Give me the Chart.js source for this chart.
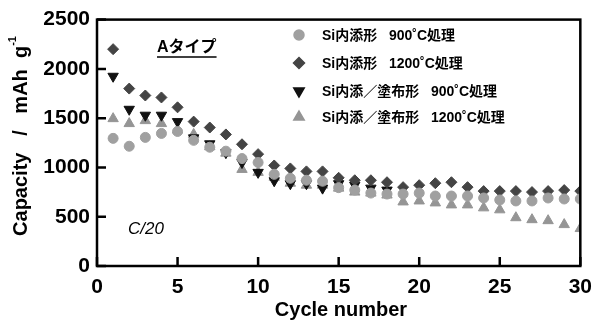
<!DOCTYPE html>
<html>
<head>
<meta charset="utf-8">
<script src="https://cdn.jsdelivr.net/npm/chart.js@4.4.1/dist/chart.umd.min.js"></script>
<style>
  html, body { margin: 0; padding: 0; background: #fff; }
  #wrap { width: 601px; height: 322px; position: relative; }
</style>
</head>
<body>
<div id="wrap"><canvas id="chart" width="601" height="322"></canvas></div>
<script>
  // Cycle numbers
  const cycles = [1, 2, 3, 4, 5, 6, 7, 8, 9, 10, 11, 12, 13, 14, 15,
                  16, 17, 18, 19, 20, 21, 22, 23, 24, 25, 26, 27, 28, 29, 30];

  // Si内添形 900°C処理 (circles)
  const inner900 = [1295, 1215, 1305, 1345, 1365, 1275, 1205, 1165, 1090, 1050,
                    930, 890, 870, 860, 795, 770, 740, 730, 730, 740,
                    710, 710, 710, 690, 670, 660, 660, 690, 680, 680];

  // Si内添形 1200°C処理 (diamonds)
  const inner1200 = [2200, 1800, 1730, 1710, 1610, 1465, 1405, 1335, 1235, 1135,
                     1020, 990, 960, 960, 895, 870, 870, 850, 800, 820,
                     840, 850, 800, 760, 760, 760, 750, 760, 770, 760];

  // Si内添/塗布形 900°C処理 (down triangles)
  const coated900 = [1925, 1590, 1530, 1530, 1465, 1300, 1240, 1150, 1050, 950,
                     865, 835, 835, 790, 835, 820, 790, 770];

  // Si内添/塗布形 1200°C処理 (up triangles)
  const coated1200 = [1495, 1445, 1475, 1445, 1380, 1335, 1210, 1145, 980, 950,
                      900, 840, 820, 820, 790, 750, 740, 720, 650, 660,
                      640, 620, 620, 590, 570, 490, 470, 460, 420, 380];

  const yTicks = [0, 500, 1000, 1500, 2000, 2500];
  const xTicks = [0, 5, 10, 15, 20, 25, 30];

  const seriesLabels = [
    'Si内添形   900˚C処理',
    'Si内添形   1200˚C処理',
    'Si内添／塗布形   900˚C処理',
    'Si内添／塗布形   1200˚C処理'
  ];

  function toPoints(values) {
    return values.map((v, i) => ({ x: cycles[i], y: v }));
  }

  const numFont = "'Liberation Sans', Arial, sans-serif";
  const jpFont = "'Liberation Sans', 'Noto Sans CJK JP', sans-serif";

  const styles = [
    { color: '#a0a0a0', pointStyle: 'circle', radius: 5, rotation: 0 },
    { color: '#444444', pointStyle: 'rectRot', radius: 5.5, rotation: 0 },
    { color: '#111111', pointStyle: 'triangle', radius: 6, rotation: 180 },
    { color: '#959595', pointStyle: 'triangle', radius: 6, rotation: 0 }
  ];

  // Frame, inward ticks, annotations and legend
  const decorations = {
    id: 'decorations',
    afterDraw(chart) {
      const ctx = chart.ctx;
      const xs = chart.scales.x;
      const ys = chart.scales.y;
      const a = chart.chartArea;
      ctx.save();

      // frame
      ctx.strokeStyle = '#000';
      ctx.lineWidth = 2.5;
      ctx.strokeRect(a.left, a.top, a.right - a.left, a.bottom - a.top);

      // inward ticks
      ctx.beginPath();
      xTicks.forEach(t => {
        const px = xs.getPixelForValue(t);
        ctx.moveTo(px, a.bottom);
        ctx.lineTo(px, a.bottom - 9);
      });
      yTicks.forEach(t => {
        const py = ys.getPixelForValue(t);
        ctx.moveTo(a.left, py);
        ctx.lineTo(a.left + 9, py);
      });
      ctx.stroke();

      // y axis title
      ctx.fillStyle = '#000';
      ctx.save();
      ctx.translate(21, 136);
      ctx.rotate(-Math.PI / 2);
      ctx.textAlign = 'left';
      ctx.textBaseline = 'middle';
      ctx.font = 'bold 20px ' + numFont;
      const main = 'Capacity   /   mAh  g';
      const w = ctx.measureText(main).width;
      ctx.font = 'bold 11px ' + numFont;
      const sup = '-1';
      const ws = ctx.measureText(sup).width;
      const start = -(w + ws) / 2;
      ctx.font = 'bold 20px ' + numFont;
      ctx.fillText(main, start, 0);
      ctx.font = 'bold 11px ' + numFont;
      ctx.fillText(sup, start + w, -8);
      ctx.restore();

      // x axis title
      ctx.font = 'bold 20px ' + numFont;
      ctx.textAlign = 'center';
      ctx.textBaseline = 'middle';
      ctx.fillText('Cycle number', 341, 310);

      // Aタイプ
      ctx.font = 'bold 16px ' + jpFont;
      ctx.textAlign = 'left';
      ctx.fillText('Aタイプ', 157, 48);
      const tw = ctx.measureText('Aタイプ').width;
      ctx.lineWidth = 1.5;
      ctx.beginPath();
      ctx.moveTo(157, 57);
      ctx.lineTo(157 + tw, 57);
      ctx.stroke();

      // C/20
      ctx.font = 'italic 17px ' + numFont;
      ctx.fillText('C/20', 128, 229);

      // legend
      const rows = [35, 63, 91, 117];
      ctx.font = 'bold 14px ' + jpFont;
      rows.forEach((ry, i) => {
        const s = styles[i];
        ctx.fillStyle = s.color;
        ctx.strokeStyle = s.color;
        Chart.helpers.drawPoint(ctx, {
          pointStyle: s.pointStyle,
          radius: s.radius,
          rotation: s.rotation,
          borderWidth: 1
        }, 299, ry);
        ctx.fillStyle = '#000';
        ctx.fillText(seriesLabels[i], 322, ry + 1);
      });

      ctx.restore();
    }
  };

  const datasets = [inner900, inner1200, coated900, coated1200].map((vals, i) => ({
    label: seriesLabels[i],
    data: toPoints(vals),
    showLine: false,
    pointStyle: styles[i].pointStyle,
    pointRadius: styles[i].radius,
    pointRotation: styles[i].rotation,
    backgroundColor: styles[i].color,
    borderColor: styles[i].color,
    borderWidth: 1
  }));

  new Chart(document.getElementById('chart'), {
    type: 'scatter',
    data: { datasets },
    options: {
      responsive: false,
      animation: false,
      layout: { padding: { top: 19, right: 17, left: 0, bottom: 0 } },
      plugins: {
        legend: { display: false },
        tooltip: { enabled: false }
      },
      scales: {
        x: {
          type: 'linear',
          min: 0,
          max: 30,
          afterBuildTicks(scale) { scale.ticks = xTicks.map(v => ({ value: v })); },
          afterFit(scale) { scale.height = 56; },
          grid: { display: false, drawTicks: false },
          border: { display: false },
          ticks: {
            padding: 9,
            color: '#000',
            callback: v => String(v),
            font: { family: numFont, size: 21, weight: 'bold' }
          }
        },
        y: {
          type: 'linear',
          min: 0,
          max: 2500,
          afterBuildTicks(scale) { scale.ticks = yTicks.map(v => ({ value: v })); },
          afterFit(scale) { scale.width = 97; },
          grid: { display: false, drawTicks: false },
          border: { display: false },
          ticks: {
            padding: 7,
            color: '#000',
            callback: v => String(v),
            font: { family: numFont, size: 21, weight: 'bold' }
          }
        }
      }
    },
    plugins: [decorations]
  });
</script>
</body>
</html>
